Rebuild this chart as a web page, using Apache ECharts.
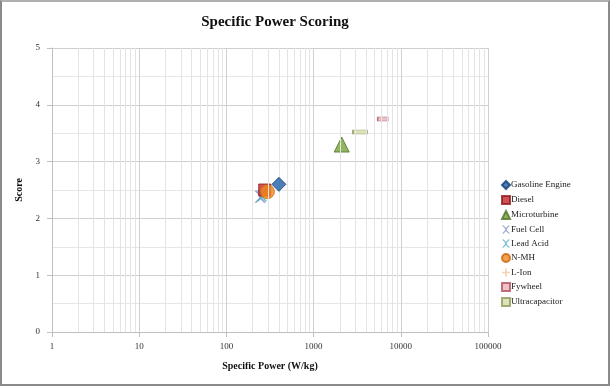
<!DOCTYPE html>
<html>
<head>
<meta charset="utf-8">
<script src="https://cdn.jsdelivr.net/npm/echarts@6/dist/echarts.min.js"></script>
<style>
html,body{margin:0;padding:0;background:#fff;}
#main{width:610px;height:386px;box-sizing:border-box;border:2px solid #8a8a8a;border-top-color:#b0b0b0;}
</style>
</head>
<body>
<div id="main"></div>
<script>
// data: [specific power W/kg, score]
var seriesNames = ['Gasoline Engine','Diesel','Microturbine','Fuel Cell','Lead Acid','N-MH','L-Ion','Fywheel','Ultracapacitor'];
var gasolineData = [[400, 2.6]];
var dieselData = [[275, 2.5]];
var microturbineData = [[2100, 3.3]];
var fuelCellData = [[245, 2.38]];
var leadAcidData = [[255, 2.4]];
var nmhData = [[295, 2.47]];
var lionData = [[290, 2.45]];
var flywheelData = [[6200, 3.75]];
var ultracapData = [[3400, 3.52]];
var xTicks = [1, 10, 100, 1000, 10000, 100000];

var serif = 'Liberation Serif';
var crossPath = 'path://M0,0 L2,0 L5,3 L8,0 L10,0 L6,4 L6,6 L10,10 L8,10 L5,7 L2,10 L0,10 L4,6 L4,4 Z';
var plusPath = 'path://M4,0 L6,0 L6,4 L10,4 L10,6 L6,6 L6,10 L4,10 L4,6 L0,6 L0,4 L4,4 Z';

// minor grid lines at 2..9 of every decade
var minorLines = [];
for (var d = 0; d < xTicks.length - 1; d++) {
    for (var k = 2; k <= 9; k++) {
        minorLines.push({xAxis: k * xTicks[d]});
    }
}

var myChart = echarts.init(document.getElementById('main'));
var option = {
    backgroundColor: '#fff',
    animation: false,
    title: {
        text: 'Specific Power Scoring',
        left: 268,
        textAlign: 'center',
        top: 8,
        textStyle: {fontFamily: serif, fontWeight: 'bold', fontSize: 15, color: '#111'}
    },
    legend: {
        orient: 'vertical',
        left: 494,
        top: 173,
        itemGap: 5,
        itemWidth: 8,
        itemHeight: 8,
        textStyle: {fontFamily: serif, fontSize: 9, color: '#222', padding: [0, 0, 0, -4]},
        data: seriesNames
    },
    grid: {left: 50, right: 120, top: 46, bottom: 52},
    xAxis: {
        type: 'log',
        logBase: 10,
        min: 1,
        max: 100000,
        name: 'Specific Power (W/kg)',
        nameLocation: 'middle',
        nameGap: 29,
        nameTextStyle: {fontFamily: serif, fontWeight: 'bold', fontSize: 10, color: '#111'},
        axisLine: {lineStyle: {color: '#bfbfbf'}},
        axisTick: {show: true, lineStyle: {color: '#bfbfbf'}},
        axisLabel: {fontFamily: serif, fontSize: 9, color: '#333', margin: 10, formatter: function (v) { return String(v); }},
        splitLine: {show: true, lineStyle: {color: '#d0d0d0'}}
    },
    yAxis: {
        type: 'value',
        min: 0,
        max: 5,
        interval: 1,
        name: 'Score',
        nameLocation: 'middle',
        nameGap: 28,
        nameTextStyle: {fontFamily: serif, fontWeight: 'bold', fontSize: 10, color: '#111'},
        axisLine: {show: true, lineStyle: {color: '#bfbfbf'}},
        axisTick: {show: true, lineStyle: {color: '#bfbfbf'}},
        axisLabel: {fontFamily: serif, fontSize: 9, color: '#333', margin: 12},
        splitLine: {show: true, lineStyle: {color: '#d0d0d0'}},
        minorTick: {show: false, splitNumber: 2},
        minorSplitLine: {show: true, lineStyle: {color: '#e6e6e6'}}
    },
    series: [
        {
            name: 'minor', type: 'scatter', data: [], silent: true,
            markLine: {
                silent: true, symbol: 'none', label: {show: false},
                lineStyle: {color: '#e4e4e4', type: 'solid', width: 1},
                emphasis: {disabled: true},
                data: minorLines
            }
        },
        {name: 'Gasoline Engine', type: 'scatter', data: gasolineData, symbol: 'diamond', symbolSize: 14,
            itemStyle: {color: '#1f5ea8', borderColor: '#123f75', borderWidth: 1}, z: 5},
        {name: 'Diesel', type: 'scatter', data: dieselData, symbol: 'rect', symbolSize: 12,
            itemStyle: {color: '#c0282d', borderColor: '#8e1a1e', borderWidth: 1}, z: 3},
        {name: 'Microturbine', type: 'scatter', data: microturbineData, symbol: 'triangle', symbolSize: 15,
            itemStyle: {color: '#76a33a', borderColor: '#4f7324', borderWidth: 1}},
        {name: 'Fuel Cell', type: 'scatter', data: fuelCellData, symbol: crossPath, symbolSize: 12,
            itemStyle: {color: '#7f8fc6'}, z: 2},
        {name: 'Lead Acid', type: 'scatter', data: leadAcidData, symbol: crossPath, symbolSize: 11,
            itemStyle: {color: '#4bacc6'}, z: 2},
        {name: 'N-MH', type: 'scatter', data: nmhData, symbol: 'circle', symbolSize: 14,
            itemStyle: {color: '#f08a1e', borderColor: '#c8650d', borderWidth: 1}, z: 4},
        {name: 'L-Ion', type: 'scatter', data: lionData, symbol: plusPath, symbolSize: 10,
            itemStyle: {color: '#f5c59a'}, z: 1},
        {name: 'Fywheel', type: 'scatter', data: flywheelData, symbol: 'rect', symbolSize: [10, 4],
            itemStyle: {color: '#e8b4bd', borderColor: '#b0505f', borderWidth: 1}},
        {name: 'Ultracapacitor', type: 'scatter', data: ultracapData, symbol: 'rect', symbolSize: [14, 4],
            itemStyle: {color: '#d7dcaa', borderColor: '#8f9a5a', borderWidth: 1}}
    ]
};
myChart.setOption(option);
</script>
</body>
</html>
